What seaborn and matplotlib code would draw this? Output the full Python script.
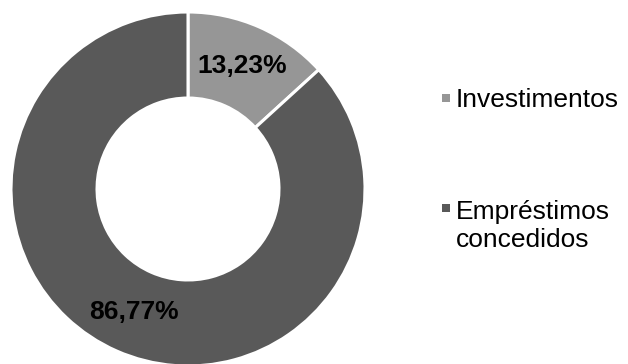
import matplotlib
matplotlib.use("Agg")
import matplotlib.pyplot as plt
from matplotlib.patches import Rectangle
import seaborn as sns

# Data
categories = ["Investimentos", "Empréstimos\nconcedidos"]
shares = [13.23, 86.77]
colors = ["#969696", "#595959"]

sns.set_theme(style="white")
plt.rcParams["font.family"] = ["Liberation Sans", "DejaVu Sans"]

W, H = 628, 364
fig = plt.figure(figsize=(W / 100, H / 100), dpi=100)
fig.patch.set_facecolor("white")

# Donut: centre (188, 189) px from top-left, outer radius 177 px
cx, cy, R = 188, 189, 177
ax = fig.add_axes([(cx - R) / W, (H - cy - R) / H, 2 * R / W, 2 * R / H])
ax.set_facecolor("none")

palette = sns.color_palette(colors)
wedges, texts, autotexts = ax.pie(
    shares,
    colors=palette,
    startangle=90,
    counterclock=False,
    radius=1.0,
    autopct=lambda p: f"{p:.2f}%".replace(".", ","),
    pctdistance=0.757,
    wedgeprops=dict(width=0.486, edgecolor="white", linewidth=2.2),
    textprops=dict(fontsize=19, fontweight="bold", color="black"),
)
ax.set_xlim(-1, 1)
ax.set_ylim(-1, 1)
ax.set_aspect("equal")
ax.axis("off")

# Legend: square swatches with labels on the right
# (first-line top y, swatch centre y) in px from the top
legend_rows = [(88, 98), (200, 208)]
for (top_y, sw_y), label, col in zip(legend_rows, categories, palette):
    fig.patches.append(
        Rectangle((442 / W, (H - sw_y - 4) / H), 8 / W, 8 / H,
                  transform=fig.transFigure, facecolor=col, edgecolor="none")
    )
    fig.text(456 / W, (H - top_y) / H, label, fontsize=19, color="black",
             ha="left", va="top", linespacing=1.22)

fig.savefig("out.png", dpi=100, facecolor="white")
